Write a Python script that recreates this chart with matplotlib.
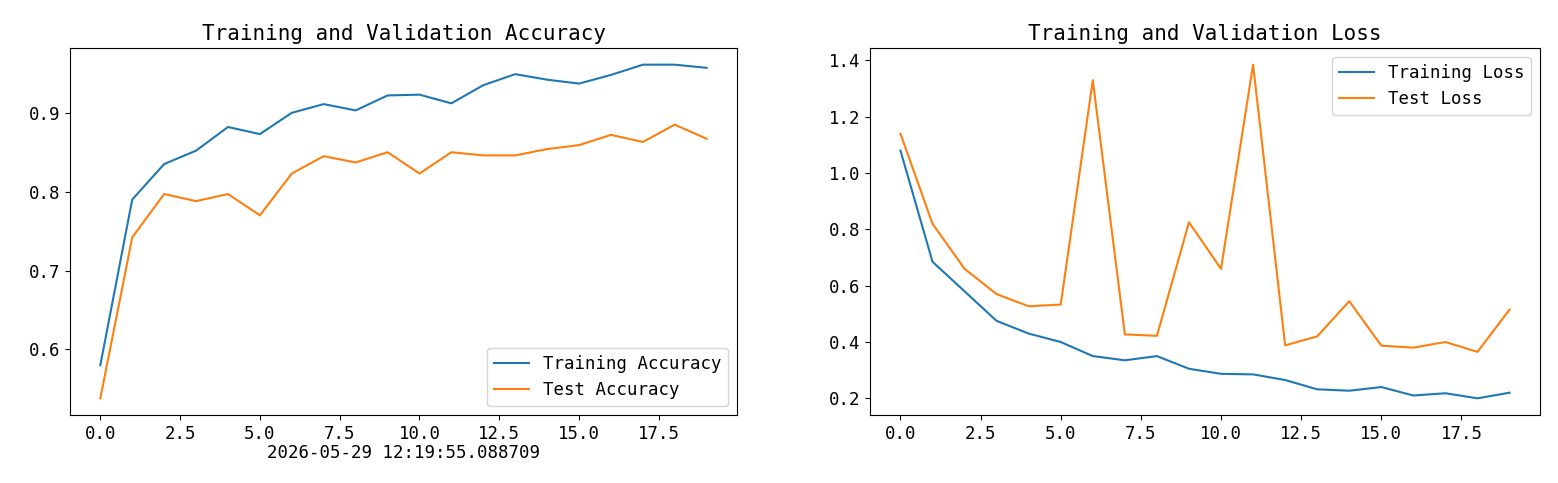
import matplotlib
matplotlib.use("Agg")
import matplotlib.pyplot as plt

epochs = list(range(20))
train_acc = [0.58, 0.79, 0.835, 0.852, 0.882, 0.873, 0.90, 0.911, 0.903, 0.922, 0.923, 0.912, 0.935, 0.949, 0.942, 0.937, 0.948, 0.961, 0.961, 0.957]
test_acc = [0.538, 0.742, 0.797, 0.788, 0.797, 0.770, 0.823, 0.845, 0.837, 0.850, 0.823, 0.850, 0.846, 0.846, 0.854, 0.859, 0.872, 0.863, 0.885, 0.867]
train_loss = [1.08, 0.685, 0.58, 0.475, 0.43, 0.40, 0.35, 0.335, 0.35, 0.305, 0.287, 0.285, 0.265, 0.232, 0.227, 0.24, 0.21, 0.218, 0.20, 0.22]
test_loss = [1.14, 0.82, 0.66, 0.57, 0.527, 0.533, 1.33, 0.427, 0.422, 0.825, 0.66, 1.385, 0.388, 0.42, 0.545, 0.387, 0.38, 0.40, 0.365, 0.515]
stamp = "2026-05-29 12:19:55.088709"

plt.rcParams['font.family'] = ['DejaVu Sans Mono']
plt.rcParams['font.size'] = 12.5
fig = plt.figure(figsize=(15.58, 4.83), dpi=100)
ax1 = fig.add_axes([70/1558, 1-415/483, 667/1558, 367/483])
ax2 = fig.add_axes([870/1558, 1-415/483, 670/1558, 367/483])

ax1.plot(epochs, train_acc, label="Training Accuracy")
ax1.plot(epochs, test_acc, label="Test Accuracy")
ax1.legend(loc="lower right")
ax1.set_title("Training and Validation Accuracy")
ax1.set_xlabel(stamp)
ax1.xaxis.labelpad = 1

ax2.plot(epochs, train_loss, label="Training Loss")
ax2.plot(epochs, test_loss, label="Test Loss")
ax2.legend(loc="upper right")
ax2.set_title("Training and Validation Loss")

fig.savefig("out.png", dpi=100)
